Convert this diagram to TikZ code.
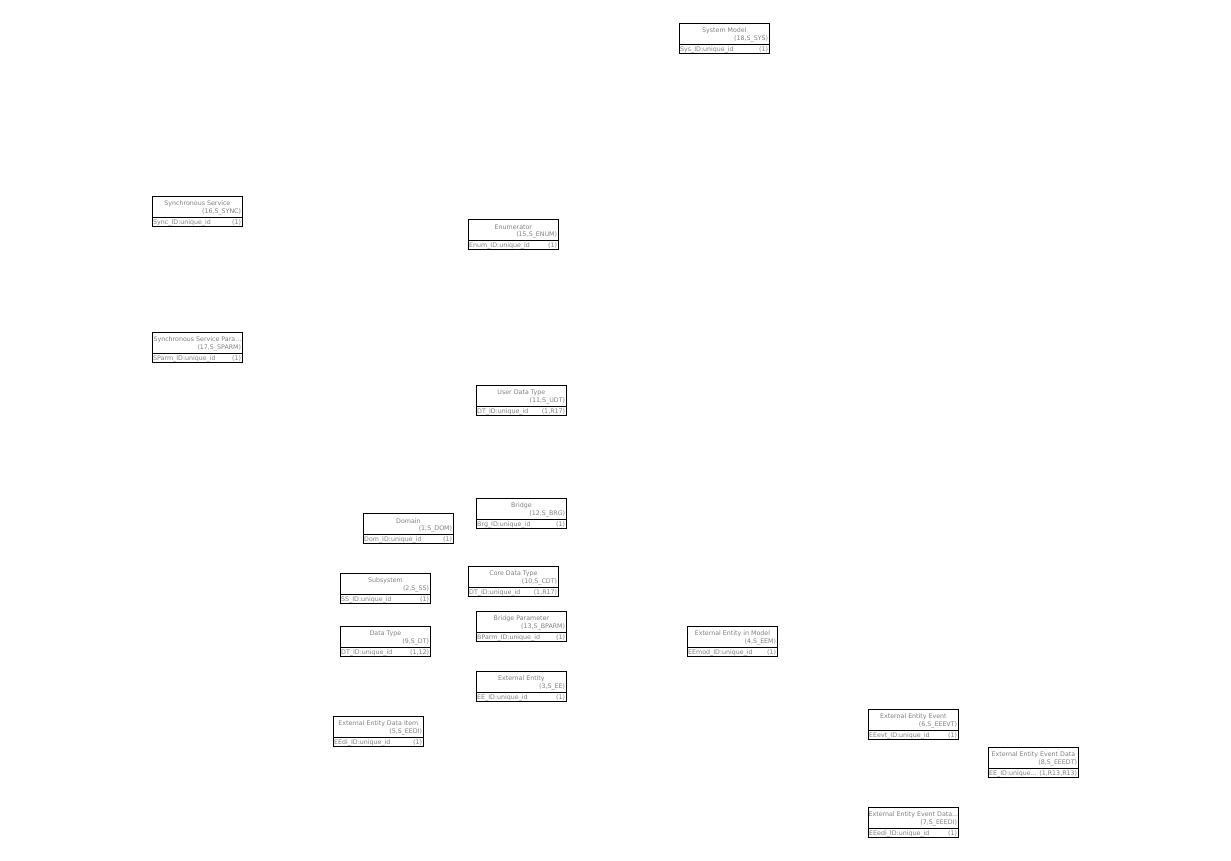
\documentclass[tikz,border=0pt]{standalone}
\usepackage{fontspec}
\setmainfont{DejaVu Sans}
\usetikzlibrary{positioning}

\tikzset{
  entity/.style={draw, line width=0.8pt, anchor=north west,
    minimum width=90pt, minimum height=30pt, inner sep=0pt},
  etext/.style={text=black!50, font=\fontsize{6.3}{7}\selectfont, inner sep=0pt},
}

\begin{document}
\begin{tikzpicture}[x=1pt,y=-1pt]

    % Page
    \useasboundingbox (0,0) rectangle (1231,861);

    % Classes
    \foreach \nm/\px/\py/\ttl/\kx/\att/\idx in {
        sys/679/23/{System Model}/{(18,S\_SYS)}/{Sys\_ID:unique\_id}/{(1)},
        sync/152/196/{Synchronous Service}/{(16,S\_SYNC)}/{Sync\_ID:unique\_id}/{(1)},
        sparm/152/332/{Synchronous Service Para...}/{(17,S\_SPARM)}/{SParm\_ID:unique\_id}/{(1)},
        enum/468/219/{Enumerator}/{(15,S\_ENUM)}/{Enum\_ID:unique\_id}/{(1)},
        udt/476/385/{User Data Type}/{(11,S\_UDT)}/{DT\_ID:unique\_id}/{(1,R17)},
        brg/476/498/{Bridge}/{(12,S\_BRG)}/{Brg\_ID:unique\_id}/{(1)},
        dom/363/513/{Domain}/{(1,S\_DOM)}/{Dom\_ID:unique\_id}/{(1)},
        ss/340/573/{Subsystem}/{(2,S\_SS)}/{SS\_ID:unique\_id}/{(1)},
        cdt/468/566/{Core Data Type}/{(10,S\_CDT)}/{DT\_ID:unique\_id}/{(1,R17)},
        bparm/476/611/{Bridge Parameter}/{(13,S\_BPARM)}/{BParm\_ID:unique\_id}/{(1)},
        dt/340/626/{Data Type}/{(9,S\_DT)}/{DT\_ID:unique\_id}/{(1,12)},
        ee/476/671/{External Entity}/{(3,S\_EE)}/{EE\_ID:unique\_id}/{(1)},
        eedi/333/716/{External Entity Data Item}/{(5,S\_EEDI)}/{EEdi\_ID:unique\_id}/{(1)},
        eem/687/626/{External Entity in Model}/{(4,S\_EEM)}/{EEmod\_ID:unique\_id}/{(1)},
        eeevt/868/709/{External Entity Event}/{(6,S\_EEEVT)}/{EEevt\_ID:unique\_id}/{(1)},
        eeedt/988/747/{External Entity Event Data}/{(8,S\_EEEDT)}/{EE\_ID:unique...}/{(1,R13,R13)},
        eeedi/868/807/{External Entity Event Data...}/{(7,S\_EEEDI)}/{EEedi\_ID:unique\_id}/{(1)}%
    } {
        % Box
        \node[entity] (\nm) at (\px,\py) {};
        \draw[line width=0.8pt] ([yshift=-21pt]\nm.north west) -- ([yshift=-21pt]\nm.north east);
        % Label
        \node[etext] (\nm-title) at ([yshift=-8pt]\nm.north) {\ttl};
        \node[etext, anchor=east] (\nm-key) at ([xshift=-1.5pt,yshift=-15.5pt]\nm.north east) {\kx};
        % Attribute
        \node[etext, anchor=west] (\nm-attr) at ([xshift=1pt,yshift=-27pt]\nm.north west) {\att};
        \node[etext, anchor=east] (\nm-idx) at ([xshift=-1.5pt,yshift=-27pt]\nm.north east) {\idx};
    }

\end{tikzpicture}
\end{document}
